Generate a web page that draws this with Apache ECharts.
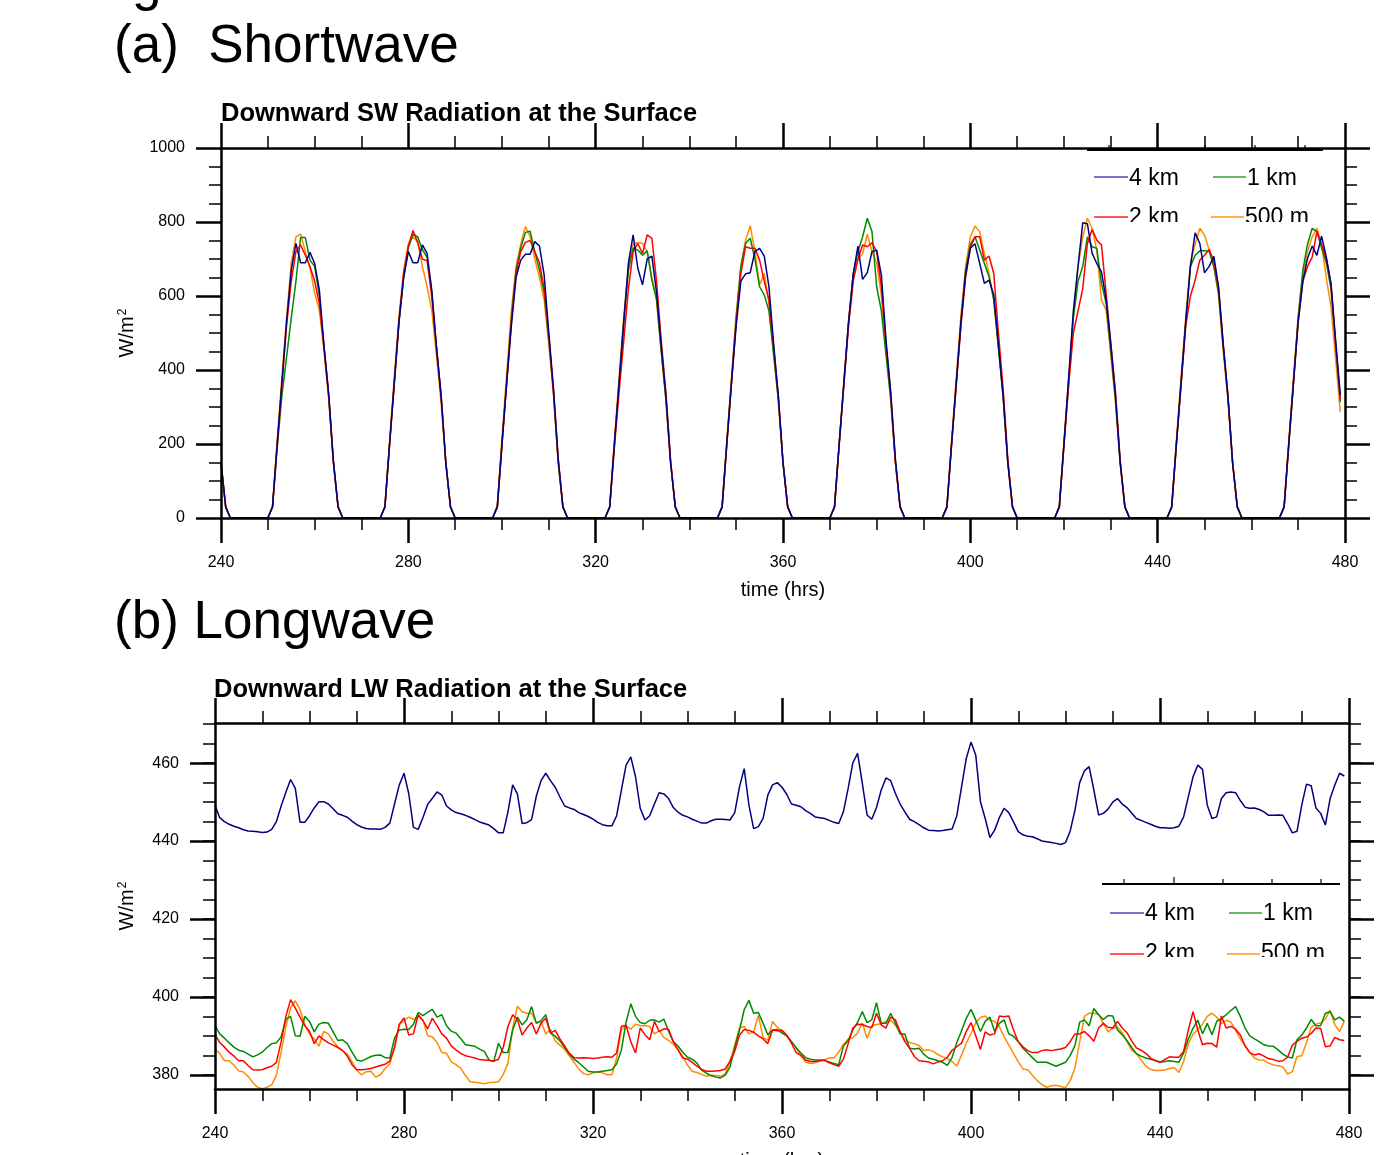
<!DOCTYPE html>
<html>
<head>
<meta charset="utf-8">
<script src="https://cdn.jsdelivr.net/npm/echarts@6/dist/echarts.min.js"></script>
<style>
html,body{margin:0;padding:0;background:#fff;}
#chart{width:1381px;height:1155px;}
</style>
</head>
<body>
<div id="chart"></div>
<script>
// ---------------- DATA ----------------
const HOUR0 = 240; // first model hour; one value per hour
const X_TICKS = [240, 280, 320, 360, 400, 440, 480];
const SW_TICKS = [0, 200, 400, 600, 800, 1000];
const LW_MAJOR = [380, 400, 420, 440, 460];
const LW_MINOR = [380,385,390,395,400,405,410,415,420,425,430,435,440,445,450,455,460,465,470];
const SERIES_NAMES = ['4 km', '2 km', '1 km', '500 m'];

// Downward SW radiation at the surface (W/m2), hours 240..479
const SW_4km = [
150,30,0,0,0,0,0,0,0,0,0,30,200,365,530,670,742,690,690,718,688,616,465,335,
155,30,0,0,0,0,0,0,0,0,0,30,200,365,530,650,720,690,690,738,715,616,465,330,
150,30,0,0,0,0,0,0,0,0,0,30,200,365,520,650,697,713,713,747,735,657,500,350,
160,30,0,0,0,0,0,0,0,0,0,30,200,365,530,690,765,675,630,700,708,610,465,330,
150,30,0,0,0,0,0,0,0,0,0,30,200,365,520,640,660,663,720,729,708,625,470,330,
150,30,0,0,0,0,0,0,0,0,0,30,200,365,530,660,735,645,663,720,724,657,480,340,
160,30,0,0,0,0,0,0,0,0,0,30,200,365,530,660,729,741,688,634,643,603,470,330,
150,30,0,0,0,0,0,0,0,0,0,30,200,380,560,680,798,795,716,688,665,590,470,330,
150,30,0,0,0,0,0,0,0,0,0,30,200,365,530,680,771,742,663,680,707,625,470,330,
150,30,0,0,0,0,0,0,0,0,0,30,200,365,530,640,702,735,710,762,706,634,480,332
];
const SW_2km = [
150,30,0,0,0,0,0,0,0,0,0,30,200,360,520,640,720,738,710,680,640,580,460,330,
150,30,0,0,0,0,0,0,0,0,0,30,200,365,530,660,735,777,745,700,695,600,460,330,
150,30,0,0,0,0,0,0,0,0,0,30,200,365,530,660,720,745,750,720,690,620,490,340,
160,30,0,0,0,0,0,0,0,0,0,30,190,340,480,620,720,742,715,765,756,640,480,340,
155,30,0,0,0,0,0,0,0,0,0,30,200,365,530,660,733,729,729,697,640,590,460,330,
150,30,0,0,0,0,0,0,0,0,0,30,200,360,520,640,700,738,733,744,720,625,470,335,
150,30,0,0,0,0,0,0,0,0,0,30,200,360,520,650,730,760,760,697,708,661,500,350,
160,30,0,0,0,0,0,0,0,0,0,30,200,360,500,560,620,742,780,751,738,607,470,340,
155,30,0,0,0,0,0,0,0,0,0,30,200,360,520,600,643,697,710,726,693,620,470,330,
150,30,0,0,0,0,0,0,0,0,0,30,200,365,530,640,680,705,774,740,700,634,470,319
];
const SW_1km = [
150,30,0,0,0,0,0,0,0,0,0,30,190,330,435,540,640,758,758,697,680,600,460,330,
150,30,0,0,0,0,0,0,0,0,0,30,200,365,530,650,730,767,760,725,705,610,460,330,
150,30,0,0,0,0,0,0,0,0,0,30,200,370,540,670,730,772,775,720,670,610,480,340,
150,30,0,0,0,0,0,0,0,0,0,30,200,365,530,670,730,724,710,722,643,590,450,320,
150,30,0,0,0,0,0,0,0,0,0,30,200,370,540,680,742,756,700,625,603,560,440,320,
150,30,0,0,0,0,0,0,0,0,0,30,200,365,530,660,720,760,810,774,625,560,440,320,
150,30,0,0,0,0,0,0,0,0,0,30,200,365,530,670,740,760,724,688,652,590,460,330,
150,30,0,0,0,0,0,0,0,0,0,30,200,365,540,640,680,760,733,729,634,580,450,320,
150,30,0,0,0,0,0,0,0,0,0,30,200,365,530,680,710,722,722,720,680,610,460,330,
150,30,0,0,0,0,0,0,0,0,0,30,200,370,540,670,740,783,774,730,690,620,470,314
];
const SW_500m = [
150,30,0,0,0,0,0,0,0,0,0,30,210,380,540,690,760,768,720,676,608,562,450,320,
150,30,0,0,0,0,0,0,0,0,0,30,210,380,545,670,740,760,745,680,625,562,440,310,
150,30,0,0,0,0,0,0,0,0,0,35,220,390,560,680,740,788,760,700,650,590,470,330,
150,30,0,0,0,0,0,0,0,0,0,30,210,380,545,680,740,745,742,720,650,590,450,320,
150,30,0,0,0,0,0,0,0,0,0,30,210,380,550,680,750,790,720,630,661,580,450,320,
150,30,0,0,0,0,0,0,0,0,0,30,200,370,530,650,700,715,767,720,690,600,460,330,
150,30,0,0,0,0,0,0,0,0,0,30,210,380,550,680,760,789,774,715,660,590,460,330,
150,30,0,0,0,0,0,0,0,0,0,30,210,380,550,680,760,810,783,724,589,562,440,310,
145,30,0,0,0,0,0,0,0,0,0,30,210,380,545,690,740,783,765,724,680,600,450,320,
145,30,0,0,0,0,0,0,0,0,0,30,210,380,545,660,720,760,783,740,650,571,430,287
];

// Downward LW radiation at the surface (W/m2), hours 240..479
const LW_4km = [
449.2,446,445,444.3,443.8,443.4,442.9,442.6,442.5,442.4,442.2,442.3,443,445,449,452.5,455.8,453.5,444.8,444.8,446.5,448.5,450.1,450.1,
449.5,448.3,447,446.6,446.1,445.1,444.2,443.6,443.2,443.1,443.1,443,443.5,444.6,449.5,454.4,457.4,452.2,443.5,443,446,449.4,451,452.6,
451.8,449,448,447.3,447,446.6,446.1,445.5,444.9,444.5,444.1,443.2,442.1,442.1,447.5,454.4,452.1,444.5,444.7,445.5,451.5,455.5,457.4,455.5,
453.8,451.3,449,448.5,448.1,447.3,446.8,446.3,445.6,444.8,444.2,443.9,443.9,446.5,453,459.5,461.6,456.5,448.4,445.4,446.5,449.5,452.4,452.1,
450.9,448.6,447.4,446.6,446.2,445.6,445.1,444.6,444.6,445.2,445.6,445.6,445.5,445.4,447.3,453.9,458.6,449.2,443.2,443.7,445.8,451.8,454.4,455,
453.8,452,449.5,449.2,448.8,447.8,447.1,446.2,446,445.8,445.3,444.8,444.5,447.5,453.5,460.1,462.5,454.8,446.7,445.6,448.6,453.1,456.2,455.5,
452.2,449.5,447.5,445.6,445,444.2,443.4,442.8,442.7,442.6,442.7,442.9,443.1,446.5,453.9,461.2,465.4,462.1,450.1,445.8,440.9,442.8,446,448.4,
447.3,444.9,442.4,441.6,441.2,441.1,440.6,440,439.8,439.6,439.4,439.1,439.6,442.6,447.9,455,458,459.1,453.1,446.7,447.1,448.2,450,450.9,
449.5,448.6,447.2,445.8,445.3,444.8,444.3,443.8,443.4,443.4,443.3,443.4,443.8,446.2,451.4,456.5,459.5,458.4,449.2,445.8,446.2,450.9,452.4,452.6,
452.4,450.4,448.7,448.4,448.5,448.1,447.5,446.6,446.6,446.7,446.6,444.5,442.1,442.5,449.2,454.6,454.2,448.5,447.1,444.1,450.9,454.4,457.4,456.7
];
const LW_2km = [
390.3,388.3,387.1,385.8,384.8,383.6,383.6,382.4,381.3,381.2,381.3,381.8,382.2,383.2,388.5,395,399.3,397.1,394.8,392.6,391.2,388,390,389,
388.2,387.6,387,386.2,384.8,382.6,381.3,381.3,381.4,381.6,382,382.4,382.7,383.5,387,393,394.6,390.2,390.5,395.4,394,391.8,394.5,392.6,
390.5,389.4,387.4,386.4,385.5,384.9,384.6,384.3,383.9,383.8,383.7,383.5,384,387,392.4,395.4,394.2,390.2,392,393.4,390.5,393.2,394.5,390.7,
391.4,389.2,387.4,385.5,384.4,384.3,384.4,384.3,384.2,384.3,384.5,384.6,384.5,385.6,392.4,392.7,388.5,385.6,392,390.3,389,393.7,391.1,391.8,
391.7,388.5,386.4,384.3,384,383.2,382.2,381.4,380.9,380.9,381,381.1,381.5,383.5,386,390.2,391.6,391.4,390.9,390,389.2,388,391.5,391.3,
391.4,390.2,388.1,385.7,385,383.8,383.4,383.4,383.6,383.7,383.1,382.6,382.2,384,388,392,393,392.9,392.4,392.1,395.8,392.8,392,394.8,
394.1,391,388.5,386.8,384.7,383.6,383.5,383.3,382.8,383.3,383.6,384.5,386.3,387.2,388.1,391.1,393.4,390,386.5,391,390.2,390.5,395.1,394.9,
395.1,391.5,388.5,387.2,386.2,385.7,385.7,386.2,386.4,386.2,386.4,386.6,387,388.5,390.5,390.5,391.1,390,388.6,392,393.2,392.2,392,393.7,
392,390.8,388.7,386.9,386.3,385.5,384.3,383.6,383.2,383.9,384.6,384.5,384.5,386,391.5,396.2,391.5,387.7,388.1,388,387.1,395.1,392,392.4,
391.7,390.2,387.4,385.7,385.1,385.4,384.8,384.1,383.9,383.5,383.6,384.5,387.6,388.6,389.4,389.7,390.6,392,391.9,387.2,387.4,389.6,389,388.8
];
const LW_1km = [
392.6,390.5,389.4,388.2,387.1,386.3,386,385.3,384.6,385.1,385.8,387,388,388.2,389.8,394.2,395,390,389.9,395,393.7,391,393,393.4,
393.2,391,388.8,389,388,385.8,383.8,383.5,384.1,384.7,385,385.1,384.4,384.3,389.4,391.5,391.7,391.6,393,396,395.2,396,396.8,394.8,
395.4,392.6,391.2,390.7,389.3,387.7,387.5,387.3,386.6,386,383.8,383.4,388.1,385.7,385.7,391.5,394.8,392.8,394.1,397.5,393.2,393.9,395.4,390.7,
389.9,388.7,387,385.3,384,383.1,382,380.9,380.7,380.7,380.9,381.1,381.3,382.8,386.3,393.5,398.2,395,393.4,393.1,394,394.1,393.5,394.3,
391.1,388.5,387.4,385.8,384.5,384,383,381.2,380.4,379.8,379.4,379.2,379.9,382,387,391.5,396.7,399.1,395.8,396,393.2,390.3,391.5,391.6,
390.7,390,388.5,386.9,385.6,384.4,384,383.8,383.8,383.7,383.3,382.9,382.6,387.4,388.8,391.5,393.5,396.2,393.4,394.1,398.5,393.2,393.2,395.8,
393.2,390.5,390.5,386.8,386.6,386.8,385.3,384.3,384,383.6,383.2,382.4,384.5,388.3,391.3,394.5,396.8,394.1,391.1,393.7,394.8,391.1,393.2,394.1,
390.5,389.9,388.5,386.8,385.6,384.4,383.2,383.2,383.2,382.7,382.2,382.7,383.2,385,387.5,393.5,394.1,392.6,397,395.4,394.2,395.2,395.1,391.5,
390.3,388.8,387,385.4,384.8,384.3,384,383.7,383.2,383.4,383.6,383.4,383.2,385.6,389.2,392,394,390.5,393.2,390.3,393.7,394.5,395.4,396.5,
397.5,395,392,390,389.2,388.5,387.7,387.4,387.3,386.4,385.3,384.6,384.3,389,390.2,392,394.2,392.6,392.6,395.8,396.2,394.1,394.8,393.7
];
const LW_500m = [
386.6,385.5,383.6,383.6,382.5,381,380.7,379.6,378,376.8,376.4,376.8,377.4,379.9,385.8,392.3,397.2,399,396.7,392.8,390.5,389.2,387.3,391.1,
390.5,388.6,387.2,386.2,385.3,383.4,381.1,380,380.8,380.9,379.4,380,381.6,382.8,387,392.8,394,394.8,394.2,395,394,390,389.7,388.3,
385.7,385.5,383.3,382.6,381.7,379.8,378.2,378.1,377.9,377.7,378,378,378.2,380.1,383,392,397.6,396.2,395.8,395.8,393.4,393.7,390.5,391.7,
388.7,387.6,386.5,384.8,383.2,381.5,380.3,380,380.5,380.8,380.5,380,380,384.3,391.5,392.6,391.7,393,392.6,392.6,392.4,390.5,391.3,389.6,
388.8,387.8,386.5,384.7,382.5,380.9,380.6,380.1,379.6,379.9,379.8,379.6,380.3,383.5,387.7,392,392.4,390.5,391,395.2,389.6,388.8,393.7,392.2,
391.2,390,388.5,387,384.9,383.3,382.9,383.1,383.5,383.9,384.3,384.3,385.8,387.8,389.2,389.5,390.8,393.3,389.4,392.6,392.9,393.1,393.7,393.9,
392.7,391.2,389,388.3,388,387.5,386.2,386.4,386,385.2,384.6,384.2,383.4,382.2,385.1,388.1,390.6,393.4,394.7,395.1,394,393.7,392.3,389.8,
387.6,385.5,383.3,381.5,381.3,379.9,378.5,377.5,376.8,377.2,377.3,377,376.7,378.5,381.8,388.4,395,395.8,395.8,395.5,393.2,391,391.9,392.3,
390.8,388.6,386.3,385.5,383.8,382.2,381.4,381.1,381.1,381.2,381.6,381.8,380.6,383.4,388,390.4,391.6,393,395,395.8,394.8,393.1,394,393.5,
391.4,389.2,387.6,385.7,384.3,383.8,383.7,383,382.5,382.3,382,380.2,380.8,384.7,384.9,388.2,392.2,393,393.3,394.3,396.6,392.8,391.1,393.7
];

// ---------------- CHART ----------------
const FONT = '"Liberation Sans", Arial, Helvetica, sans-serif';
const COLORS = {'4 km':'#000080', '2 km':'#ff0000', '1 km':'#008a00', '500 m':'#ff8c00'};
const LEGEND_COLORS = {'4 km':'#4b4bb0', '2 km':'#ff2020', '1 km':'#33a033', '500 m':'#ff9420'};
const toPairs = arr => arr.map((v, i) => [HOUR0 + i, v]);
const plainNum = v => String(v);

const GRID_SW = {left:221, top:148, width:1124, height:370};
const GRID_LW = {left:215, top:723, width:1134, height:366};

const UNIT_NAME = '{a|W/m}{b|2}';
const UNIT_STYLE = {
  color:'#000', fontFamily:FONT, fontSize:20,
  rich:{
    a:{fontSize:20, fontFamily:FONT, color:'#000'},
    b:{fontSize:12, fontFamily:FONT, color:'#000', verticalAlign:'top', padding:[0,0,0,1]}
  }
};

function xAxisPair(gridIndex) {
  const common = {
    gridIndex, type:'value', min:X_TICKS[0], max:X_TICKS[X_TICKS.length-1], interval:40, z:5,
    axisLine:{show:true, onZero:false, lineStyle:{color:'#000', width:2.5}},
    axisTick:{show:true, length:25, lineStyle:{color:'#000', width:2.5}},
    minorTick:{show:true, splitNumber:4, length:12, lineStyle:{color:'#000', width:1.5}},
    splitLine:{show:false}, minorSplitLine:{show:false}
  };
  return [
    Object.assign({}, common, {
      position:'bottom',
      axisLabel:{show:true, fontSize:16, color:'#000', fontFamily:FONT, margin:37, showMinLabel:true, showMaxLabel:true, formatter:plainNum},
      name:'time (hrs)', nameLocation:'middle', nameGap:62,
      nameTextStyle:{fontSize:20, color:'#000', fontFamily:FONT}
    }),
    Object.assign({}, common, {position:'top', axisLabel:{show:false}})
  ];
}

const yAxes = [];
// SW panel
['left','right'].forEach(pos => {
  yAxes.push({
    gridIndex:0, type:'value', min:SW_TICKS[0], max:SW_TICKS[SW_TICKS.length-1], interval:200, position:pos, z:5,
    axisLine:{show:true, onZero:false, lineStyle:{color:'#000', width:2.5}},
    axisTick:{show:true, length:25, lineStyle:{color:'#000', width:2.5}},
    minorTick:{show:true, splitNumber:4, length:12, lineStyle:{color:'#000', width:1.5}},
    splitLine:{show:false}, minorSplitLine:{show:false},
    axisLabel:{show:pos==='left', fontSize:16, color:'#000', fontFamily:FONT, margin:36, formatter:plainNum},
    name: pos==='left' ? UNIT_NAME : '', nameLocation:'middle', nameGap:84, nameRotate:90,
    nameTextStyle:UNIT_STYLE
  });
});
// LW panel: major + minor axes on both sides
['left','right'].forEach(pos => {
  yAxes.push({
    gridIndex:1, type:'value', min:376.35, max:470.3, position:pos, z:5,
    axisLine:{show:true, onZero:false, lineStyle:{color:'#000', width:2.5}},
    axisTick:{show:true, length:25, customValues:LW_MAJOR, lineStyle:{color:'#000', width:2.5}},
    splitLine:{show:false},
    axisLabel:{show:pos==='left', customValues:LW_MAJOR, fontSize:16, color:'#000', fontFamily:FONT, margin:36, formatter:plainNum},
    name: pos==='left' ? UNIT_NAME : '', nameLocation:'middle', nameGap:78, nameRotate:90,
    nameTextStyle:UNIT_STYLE
  });
  yAxes.push({
    gridIndex:1, type:'value', min:376.35, max:470.3, position:pos, z:5,
    axisLine:{show:false, onZero:false},
    axisTick:{show:true, length:12, customValues:LW_MINOR, lineStyle:{color:'#000', width:1.5}},
    splitLine:{show:false},
    axisLabel:{show:false}
  });
});

const swData = {'4 km':SW_4km, '2 km':SW_2km, '1 km':SW_1km, '500 m':SW_500m};
const lwData = {'4 km':LW_4km, '2 km':LW_2km, '1 km':LW_1km, '500 m':LW_500m};
const drawOrder = ['500 m', '1 km', '2 km', '4 km'];
const series = [];
drawOrder.forEach(n => series.push({
  type:'line', name:'SW '+n, xAxisIndex:0, yAxisIndex:0, data:toPairs(swData[n]),
  showSymbol:false, symbol:'none', silent:true, z:2,
  lineStyle:{color:COLORS[n], width:1.5}
}));
drawOrder.forEach(n => series.push({
  type:'line', name:'LW '+n, xAxisIndex:2, yAxisIndex:2, data:toPairs(lwData[n]),
  showSymbol:false, symbol:'none', silent:true, z:2,
  lineStyle:{color:COLORS[n], width:1.5}
}));

let gid = 0;
function txt(x, y, text, size, weight) {
  return {
    id:'g'+(gid++), type:'text', x, y, z:20,
    style:{text, fill:'#000', font:(weight||'normal')+' '+size+'px '+FONT, textAlign:'left', textVerticalAlign:'middle'}
  };
}
function seg(x1, y1, x2, y2, color, w) {
  return {id:'g'+(gid++), type:'line', z:20, shape:{x1, y1, x2, y2}, style:{stroke:color, lineWidth:w}};
}
function legendBlock(cfg) {
  const els = [];
  // top border of the legend box with its little ticks
  els.push(seg(cfg.boxX1, cfg.boxY, cfg.boxX2, cfg.boxY, '#000', 2));
  cfg.ticks.forEach(t => els.push(seg(t[0], cfg.boxY - t[1], t[0], cfg.boxY, '#000', 1.2)));
  cfg.items.forEach(it => {
    els.push(seg(it.lx1, it.ly, it.lx2, it.ly, LEGEND_COLORS[it.name], 1.5));
    els.push(txt(it.lx2 + 1, it.ty, it.name, 23));
  });
  // legend box bottom clips the second row
  els.push({id:'g'+(gid++), type:'rect', z:21, shape:{x:cfg.clip[0], y:cfg.clip[1], width:cfg.clip[2], height:cfg.clip[3]}, style:{fill:'#fff'}});
  return els;
}

const graphics = [
  txt(132, -15, 'g', 53),
  txt(114, 47, '(a)  Shortwave', 53),
  txt(114, 623.5, '(b) Longwave', 53),
  txt(221, 114, 'Downward SW Radiation at the Surface', 25.5, 'bold'),
  txt(214, 690, 'Downward LW Radiation at the Surface', 25.5, 'bold')
].concat(legendBlock({
  boxX1:1087, boxX2:1323, boxY:150,
  ticks:[[1109,5],[1205,5],[1255,5],[1305,5]],
  items:[
    {name:'4 km', lx1:1094, lx2:1128, ly:177, ty:178.5},
    {name:'1 km', lx1:1213, lx2:1246, ly:177, ty:178.5},
    {name:'2 km', lx1:1094, lx2:1128, ly:217, ty:218},
    {name:'500 m', lx1:1211, lx2:1244, ly:217, ty:218}
  ],
  clip:[1127, 222, 190, 5]
})).concat(legendBlock({
  boxX1:1102, boxX2:1340, boxY:884,
  ticks:[[1124,5],[1174,7],[1223,5],[1272,5],[1321,5]],
  items:[
    {name:'4 km', lx1:1110, lx2:1144, ly:913, ty:913.5},
    {name:'1 km', lx1:1229, lx2:1262, ly:913, ty:913.5},
    {name:'2 km', lx1:1110, lx2:1144, ly:954, ty:954},
    {name:'500 m', lx1:1227, lx2:1260, ly:954, ty:954}
  ],
  clip:[1143, 957, 200, 10]
}));

const option = {
  animation:false,
  backgroundColor:'#fff',
  textStyle:{fontFamily:FONT},
  grid:[
    Object.assign({show:false, containLabel:false, outerBoundsMode:'none'}, GRID_SW),
    Object.assign({show:false, containLabel:false, outerBoundsMode:'none'}, GRID_LW)
  ],
  xAxis: xAxisPair(0).concat(xAxisPair(1)),
  yAxis: yAxes,
  series,
  graphic: graphics
};

const chart = echarts.init(document.getElementById('chart'), null, {renderer:'canvas'});
chart.setOption(option);
</script>
</body>
</html>
